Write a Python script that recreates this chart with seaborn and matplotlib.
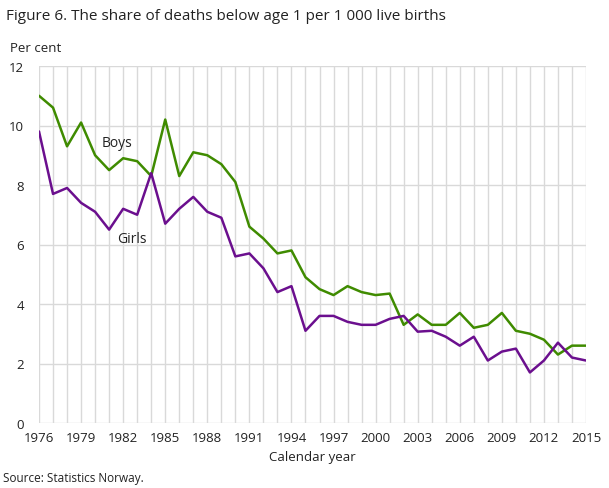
import matplotlib
matplotlib.use("Agg")
import matplotlib.pyplot as plt
import seaborn as sns
import pandas as pd
from matplotlib.ticker import MultipleLocator

years = list(range(1976, 2016))
boys = [11.0, 10.6, 9.3, 10.1, 9.0, 8.5, 8.9, 8.8, 8.3, 10.2,
        8.3, 9.1, 9.0, 8.7, 8.1, 6.6, 6.2, 5.7, 5.8, 4.9,
        4.5, 4.3, 4.6, 4.4, 4.3, 4.35, 3.3, 3.65, 3.3, 3.3,
        3.7, 3.2, 3.3, 3.7, 3.1, 3.0, 2.8, 2.3, 2.6, 2.6]
girls = [9.8, 7.7, 7.9, 7.4, 7.1, 6.5, 7.2, 7.0, 8.4, 6.7,
         7.2, 7.6, 7.1, 6.9, 5.6, 5.7, 5.2, 4.4, 4.6, 3.1,
         3.6, 3.6, 3.4, 3.3, 3.3, 3.5, 3.6, 3.07, 3.1, 2.9,
         2.6, 2.9, 2.1, 2.4, 2.5, 1.7, 2.1, 2.7, 2.2, 2.1]
series_names = ["Boys", "Girls"]
colors = {"Boys": "#3f8b00", "Girls": "#6b0f8e"}
xtick_years = list(range(1976, 2016, 3))

df = pd.DataFrame({
    "year": years * 2,
    "value": boys + girls,
    "series": ["Boys"] * len(years) + ["Girls"] * len(years),
})

sns.set_theme(style="white")
plt.rcParams['font.family'] = ['Open Sans', 'DejaVu Sans']

fig = plt.figure(figsize=(6.09, 4.89), dpi=100)
ax = fig.add_axes([39/609, 65/489, (586-39)/609, (424-67)/489])

sns.lineplot(data=df, x="year", y="value", hue="series", palette=colors,
             hue_order=series_names, linewidth=1.8, ax=ax, legend=False)

ax.set_xlim(1976, 2015)
ax.set_ylim(0, 12)
ax.set_yticks([0, 2, 4, 6, 8, 10, 12])
ax.set_xticks(xtick_years)
ax.xaxis.set_minor_locator(MultipleLocator(1))
ax.grid(True, which="both", axis="x", color="#d9d9d9", linewidth=1)
ax.grid(True, which="major", axis="y", color="#d9d9d9", linewidth=1)
ax.set_axisbelow(True)
for s in ax.spines.values():
    s.set_visible(False)
ax.tick_params(axis="both", which="both", length=0, labelsize=9.5, colors="#222222")
ax.tick_params(axis="x", pad=6)
ax.tick_params(axis="y", pad=11)
ax.set_xlabel("Calendar year", fontsize=9.5, color="#222222", labelpad=4)
ax.set_ylabel("")

ax.text(1981.56, 9.43, "Boys", fontsize=10, color="#222222", ha="center", va="center")
ax.text(1982.6, 6.19, "Girls", fontsize=10, color="#222222", ha="center", va="center")

fig.text(6/609, 1 - 17/489, "Figure 6. The share of deaths below age 1 per 1 000 live births",
         fontsize=11, color="#222222", ha="left", va="center")
fig.text(10/609, 1 - 48/489, "Per cent", fontsize=9.5, color="#222222", ha="left", va="center")
fig.text(3/609, 1 - 479/489, "Source: Statistics Norway.", fontsize=8.5, color="#222222",
         ha="left", va="center")

fig.savefig("out.png", dpi=100)
